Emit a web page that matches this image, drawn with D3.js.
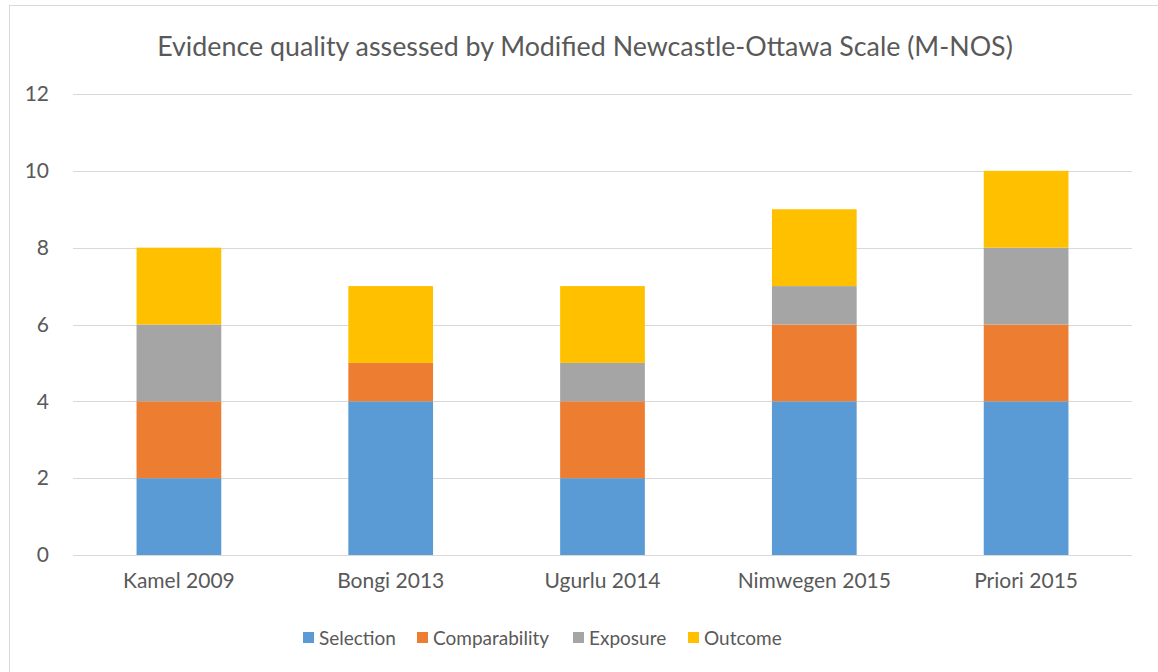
<!DOCTYPE html>
<html><head><meta charset="utf-8">
<script src="https://cdn.jsdelivr.net/npm/d3@7"></script>
<style>body{margin:0;background:#fff;} svg{display:block;font-family:Lato,"Open Sans",sans-serif;}</style>
</head><body>
<svg id="c" width="1158" height="672"></svg>
<script>
const categories = ["Kamel 2009","Bongi 2013","Ugurlu 2014","Nimwegen 2015","Priori 2015"];
const seriesNames = ["Selection","Comparability","Exposure","Outcome"];
const selection = [2,4,2,4,4];
const comparability = [2,1,2,2,2];
const exposure = [2,0,1,1,2];
const outcome = [2,2,2,2,2];
const yTicks = [0,2,4,6,8,10,12];
const colors = ["#5b9bd5","#ed7d31","#a5a5a5","#ffc000"];
const title = "Evidence quality assessed by Modified Newcastle-Ottawa Scale (M-NOS)";

const svg = d3.select("#c");
svg.append("rect").attr("x",9.5).attr("y",5.5).attr("width",1160).attr("height",680)
  .attr("fill","#fff").attr("stroke","#d9d9d9");

const rows = categories.map((c,i)=>({cat:c, Selection:selection[i], Comparability:comparability[i], Exposure:exposure[i], Outcome:outcome[i]}));
const stack = d3.stack().keys(seriesNames)(rows);

const x = d3.scaleBand().domain(categories).range([73,1132]).paddingInner(0.6).paddingOuter(0.3);
const y = d3.scaleLinear().domain([0,12]).range([555,94]);

svg.append("text").attr("x",585).attr("y",56).attr("text-anchor","middle")
  .attr("font-size",26.8).attr("fill","#595959").text(title);

const grid = svg.append("g");
grid.selectAll("line").data(yTicks).join("line")
  .attr("x1",73).attr("x2",1132).attr("y1",d=>Math.round(y(d))+0.5).attr("y2",d=>Math.round(y(d))+0.5)
  .attr("stroke","#d9d9d9").attr("stroke-width",1);

const yAxis = svg.append("g").attr("transform","translate(73,0)")
  .call(d3.axisLeft(y).tickValues(yTicks).tickSize(0).tickPadding(24));
yAxis.select(".domain").remove();
yAxis.selectAll("text").attr("font-size",21).attr("fill","#595959").attr("font-family","Lato,'Open Sans',sans-serif");

svg.append("g").selectAll("g").data(stack).join("g").attr("fill",(d,i)=>colors[i])
  .selectAll("rect").data(d=>d).join("rect")
  .attr("x",d=>x(d.data.cat)).attr("width",x.bandwidth())
  .attr("y",d=>y(d[1])).attr("height",d=>y(d[0])-y(d[1]));

svg.append("line").attr("x1",73).attr("x2",1132).attr("y1",555.5).attr("y2",555.5).attr("stroke","#d9d9d9");

const xAxis = svg.append("g").attr("transform","translate(0,555)")
  .call(d3.axisBottom(x).tickSize(0).tickPadding(18));
xAxis.select(".domain").remove();
xAxis.selectAll("text").attr("font-size",21).attr("fill","#595959").attr("font-family","Lato,'Open Sans',sans-serif");

const legendX = [303,417,573,688];
const lg = svg.append("g").selectAll("g").data(seriesNames).join("g")
  .attr("transform",(d,i)=>`translate(${legendX[i]},632)`);
lg.append("rect").attr("width",11).attr("height",11).attr("fill",(d,i)=>colors[i]);
lg.append("text").attr("x",16).attr("y",13).attr("font-size",19).attr("fill","#595959").text(d=>d);
</script>
</body></html>
